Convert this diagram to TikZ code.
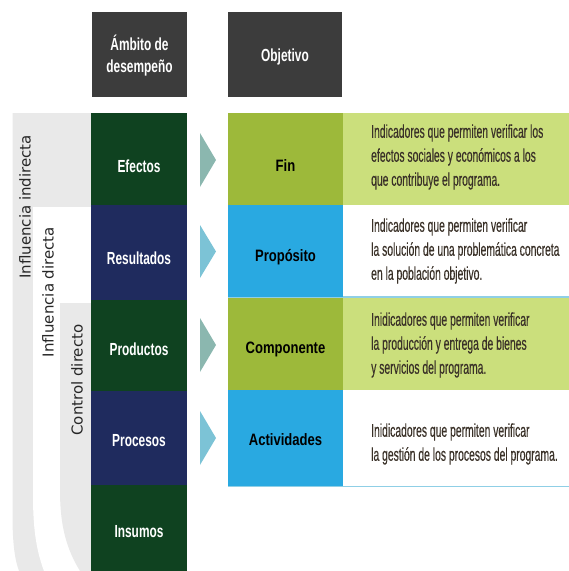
\documentclass[tikz,border=0pt]{standalone}
\usepackage{fontspec}
\setmainfont{Liberation Sans}
\newfontfamily\condfont{Liberation Sans}[FakeStretch=0.56, FakeBold=0.3]
\newfontfamily\labfont{Liberation Sans}[FakeStretch=0.68]
\newfontfamily\objfont{Liberation Sans}[FakeStretch=0.79]
\newfontfamily\bandfont{DejaVu Sans}
\definecolor{hdrgray}{HTML}{3C3C3C}
\definecolor{dkgreen}{HTML}{0F4220}
\definecolor{navy}{HTML}{1F2B5E}
\definecolor{olive}{HTML}{9DB93A}
\definecolor{ltgreen}{HTML}{CBDF7C}
\definecolor{skyblue}{HTML}{29A9E1}
\definecolor{arrteal}{HTML}{8BB7AF}
\definecolor{arrblue}{HTML}{7CC3D6}
\definecolor{lineblue}{HTML}{8FCFE6}
\definecolor{bandgray}{HTML}{E9E9E9}
\definecolor{bodytext}{HTML}{3A3128}
\begin{document}
\begin{tikzpicture}[x=1pt,y=-1pt,
  cell/.style={inner sep=0pt, outer sep=0pt, minimum width=#1},
  lefttxt/.style={text=white, font=\labfont\bfseries\fontsize{17.5}{22}\selectfont, align=center, inner sep=0pt},
  objtxt/.style={text=black, font=\objfont\bfseries\fontsize{16.5}{20}\selectfont, inner sep=0pt},
  desc/.style={text=bodytext, font=\condfont\fontsize{18.5}{24}\selectfont, align=left, anchor=west, inner sep=0pt},
  bandtxt/.style={text=black!85, font=\bandfont\fontsize{15}{18}\selectfont, rotate=90, inner sep=0pt}
]
\useasboundingbox (0,0) rectangle (569,571);
\begin{scope}
\clip (0,0) rectangle (569,571);
% nested bands
\fill[bandgray] (12.5,113) -- (91,113) -- (91,571) -- (19,571) .. controls (15,560) and (12.5,545) .. (12.5,515) -- cycle;
\fill[white] (33,207) -- (91,207) -- (91,571) -- (44,571) .. controls (37,552) and (33,532) .. (33,495) -- cycle;
\fill[bandgray] (60,303) -- (91,303) -- (91,571) -- (80,571) .. controls (66,548) and (60,525) .. (60,490) -- cycle;
\end{scope}
\node[bandtxt] (bInd) at (25,207) {Influencia indirecta};
\node[bandtxt] (bDir) at (48,292) {Influencia directa};
\node[bandtxt] (bCtl) at (77,380) {Control directo};

% headers
\node[cell=95pt, minimum height=85pt, fill=hdrgray] (hdrA) at (139.5,54.5) {};
\node[cell=114pt, minimum height=85pt, fill=hdrgray] (hdrB) at (285,54.5) {};
\node[lefttxt] (hdrAT) at ([yshift=-1pt]hdrA.center) {Ámbito de\\desempeño};
\node[lefttxt] (hdrBT) at ([yshift=-2pt]hdrB.center) {Objetivo};

% left column
\node[cell=96pt, minimum height=92pt, fill=dkgreen] (efectos) at (139,159) {};
\node[cell=96pt, minimum height=95pt, fill=navy] (resultados) at (139,252.5) {};
\node[cell=96pt, minimum height=91pt, fill=dkgreen] (productos) at (139,345.5) {};
\node[cell=96pt, minimum height=94pt, fill=navy] (procesos) at (139,438) {};
\node[cell=96pt, minimum height=86pt, fill=dkgreen] (insumos) at (139,528) {};
\node[lefttxt] (efectosT) at ([yshift=-7pt]efectos.center) {Efectos};
\node[lefttxt] (resultadosT) at ([yshift=-6pt]resultados.center) {Resultados};
\node[lefttxt] (productosT) at ([yshift=-4pt]productos.center) {Productos};
\node[lefttxt] (procesosT) at ([yshift=-3pt]procesos.center) {Procesos};
\node[lefttxt] (insumosT) at ([yshift=-4pt]insumos.center) {Insumos};

% arrows
\fill[arrteal] (200,133) -- (216,160) -- (200,187) -- cycle;
\fill[arrblue] (200,225) -- (216,251.5) -- (200,278) -- cycle;
\fill[arrteal] (200,318) -- (216,345) -- (200,372) -- cycle;
\fill[arrblue] (200,411) -- (216,438) -- (200,465) -- cycle;

% description backgrounds
\fill[ltgreen] (343,113) rectangle (569,205);
\fill[ltgreen] (343,298) rectangle (569,390);
\draw[lineblue, line width=1.6pt] (228,297.2) -- (569,297.2);
\draw[lineblue, line width=1.6pt] (228,486.5) -- (569,486.5);

% objective column
\node[cell=115pt, minimum height=92pt, fill=olive] (fin) at (285.5,159) {};
\node[cell=115pt, minimum height=92pt, fill=skyblue] (proposito) at (285.5,251) {};
\node[cell=115pt, minimum height=92pt, fill=olive] (componente) at (285.5,344) {};
\node[cell=115pt, minimum height=96pt, fill=skyblue] (actividades) at (285.5,438) {};
\node[objtxt] (finT) at ([yshift=-7pt]fin.center) {Fin};
\node[objtxt] (propositoT) at ([yshift=-6pt]proposito.center) {Propósito};
\node[objtxt] (componenteT) at ([yshift=-5pt]componente.center) {Componente};
\node[objtxt] (actividadesT) at ([yshift=-2pt]actividades.center) {Actividades};

% descriptions
\node[desc] (d1) at (371,157) {Indicadores que permiten verificar los\\efectos sociales y económicos a los\\que contribuye el programa.};
\node[desc] (d2) at (371,251) {Indicadores que permiten verificar\\la solución de una problemática concreta\\en la población objetivo.};
\node[desc] (d3) at (371,345) {Inidicadores que permiten verificar\\la producción y entrega de bienes\\y servicios del programa.};
\node[desc] (d4) at (371,444) {Inidicadores que permiten verificar\\la gestión de los procesos del programa.};
\end{tikzpicture}
\end{document}
